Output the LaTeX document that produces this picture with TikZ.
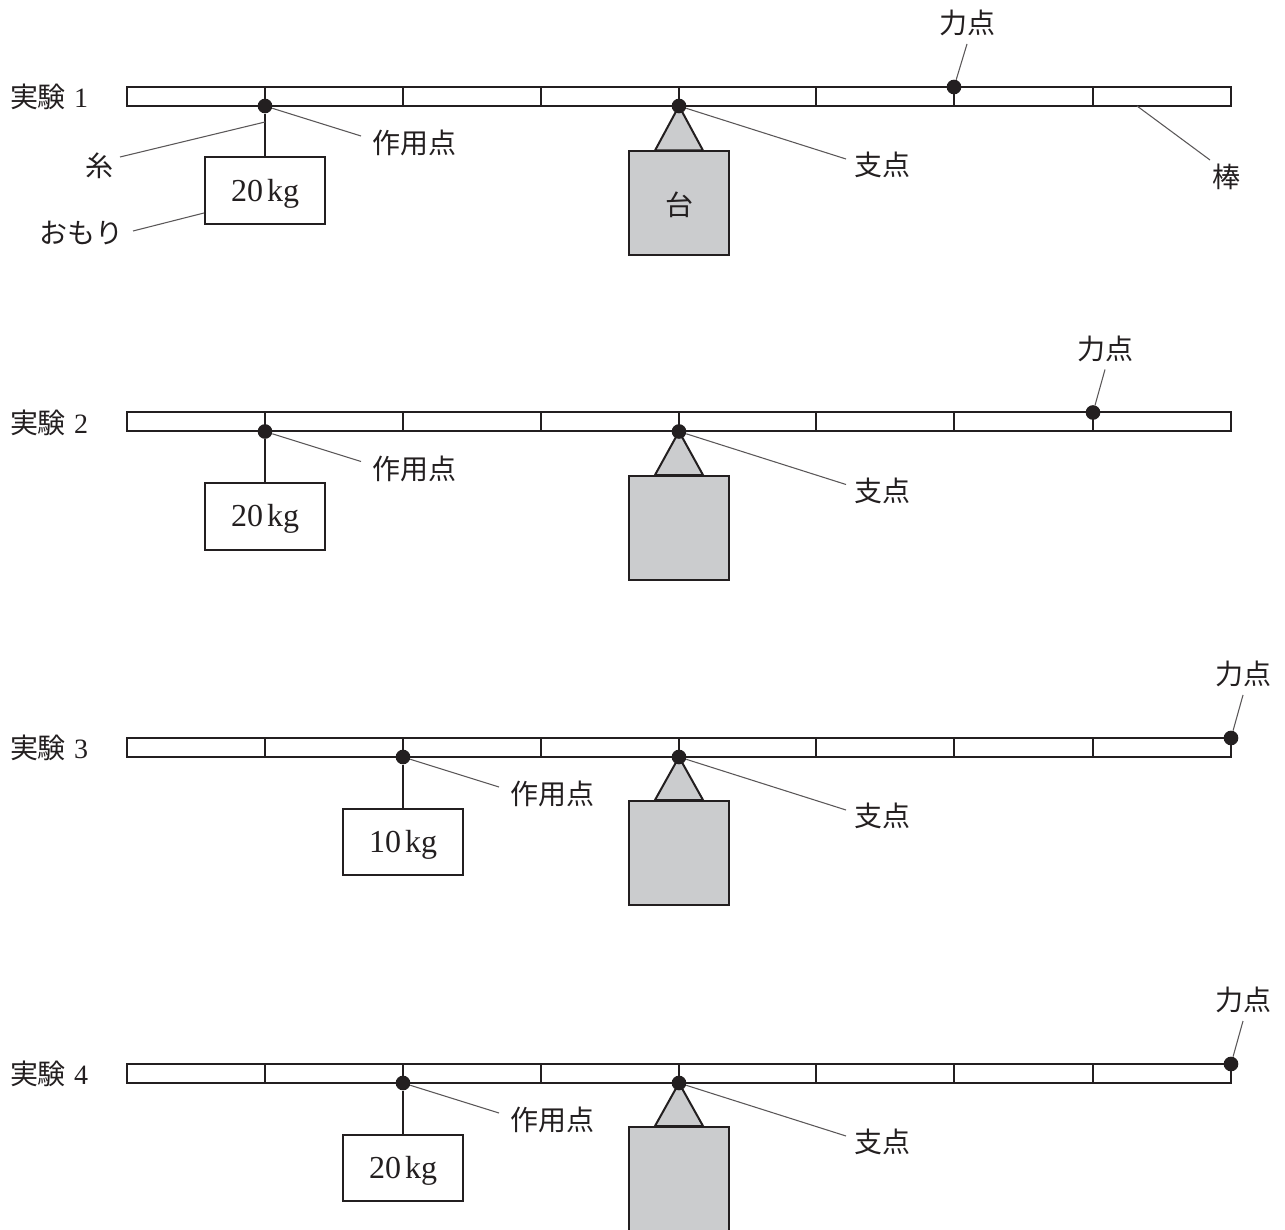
\documentclass[tikz,border=0pt]{standalone}
\usepackage{fontspec}
\setmainfont{Liberation Serif}
\newfontfamily\jpfont{Noto Sans CJK JP}
\definecolor{basegray}{HTML}{CBCCCE}
\definecolor{ink}{HTML}{231F20}
\tikzset{
  x=0.75pt,y=-0.75pt,
  beam/.style={draw=ink,line width=1.5pt,fill=white},
  tick/.style={draw=ink,line width=1.4pt},
  leader/.style={draw=ink!75,line width=0.8pt},
  pin/.style={circle,fill=ink,draw=none,inner sep=0pt,minimum size=11pt},
  weightbox/.style={draw=ink,line width=1.5pt,fill=white,inner sep=0pt,minimum width=90pt,minimum height=50pt,text=ink},
  weighttext/.style={font=\fontsize{24}{26}\selectfont,text=ink,inner sep=0pt},
  standbox/.style={draw=ink,line width=1.5pt,fill=basegray,inner sep=0pt,minimum width=75pt,minimum height=78pt},
  wedge/.style={draw=ink,line width=1.5pt,fill=basegray},
  jp/.style={font=\jpfont\fontsize{21}{23}\selectfont,text=ink,inner sep=0pt},
  titlelabel/.style={font=\fontsize{21}{23}\selectfont,text=ink,inner sep=0pt},
}
% #1 id, #2 beam top y, #3 load x, #4 force x, #5 kg, #6 number, #7 force label x, #8 stand offset
\newcommand{\leverrow}[8]{
  \node[titlelabel] (title#1) at (49,#2+10) {{\jpfont 実験}\hspace{6pt}#6};
  \draw[beam] (127,#2) rectangle (1231,#2+19);
  \foreach \tx in {265,403,541,679,816,954,1093}{\draw[tick] (\tx,#2) -- (\tx,#2+19);}
  \coordinate (wedgeL#1) at (655,#2+#8);
  \coordinate (wedgeR#1) at (703,#2+#8);
  \coordinate (wedgeT#1) at (679,#2+19);
  \draw[wedge] (wedgeL#1) -- (wedgeT#1) -- (wedgeR#1) -- cycle;
  \node[standbox,anchor=north] (stand#1) at (679,#2+#8) {};
  \node[pin] (fulcrum#1) at (679,#2+19) {};
  \node[pin] (load#1) at (#3,#2+19) {};
  \node[pin] (force#1) at (#4,#2) {};
  \node[weightbox,anchor=north] (weight#1) at (#3,#2+69.5) {};
  \node[weighttext] (kg#1) at (#3,#2+106.5) {#5};
  \draw[tick] (load#1) -- (weight#1.north);
  \node[jp] (loadlabel#1) at (#3+149,#2+56) {作用点};
  \coordinate (loadend#1) at (#3+96,#2+49);
  \draw[leader] (load#1) -- (loadend#1);
  \node[jp] (fulcrumlabel#1) at (882,#2+78) {支点};
  \coordinate (fulcrumend#1) at (846,#2+72);
  \draw[leader] (fulcrum#1) -- (fulcrumend#1);
  \node[jp] (forcelabel#1) at (#7,#2-64) {力点};
  \coordinate (forceend#1) at (#7,#2-43);
  \draw[leader] (force#1) -- (forceend#1);
}
\begin{document}
\begin{tikzpicture}
\useasboundingbox (0,0) rectangle (1285,1230);
\clip (0,0) rectangle (1285,1230);
\leverrow{a}{87}{265}{954}{20\hspace{3pt}kg}{1}{967}{63.5}
\leverrow{b}{412.5}{265}{1093}{20\hspace{3pt}kg}{2}{1105}{62.5}
\leverrow{c}{738}{403}{1231}{10\hspace{3pt}kg}{3}{1243}{62}
\leverrow{d}{1064}{403}{1231}{20\hspace{3pt}kg}{4}{1243}{62}
% labels only in experiment 1
\node[jp] (standlabel) at (679,205) {台};
\node[jp] (rodlabel) at (1226,177) {棒};
\coordinate (rodA) at (1137,106);
\coordinate (rodB) at (1210,160);
\draw[leader] (rodA) -- (rodB);
\node[jp] (threadlabel) at (99,166) {糸};
\coordinate (threadA) at (265,122);
\coordinate (threadB) at (120,157);
\draw[leader] (threadA) -- (threadB);
\node[jp] (masslabel) at (81,233) {おもり};
\coordinate (massB) at (133,231);
\draw[leader] (weighta.west |- 0,213) -- (massB);
\end{tikzpicture}
\end{document}
